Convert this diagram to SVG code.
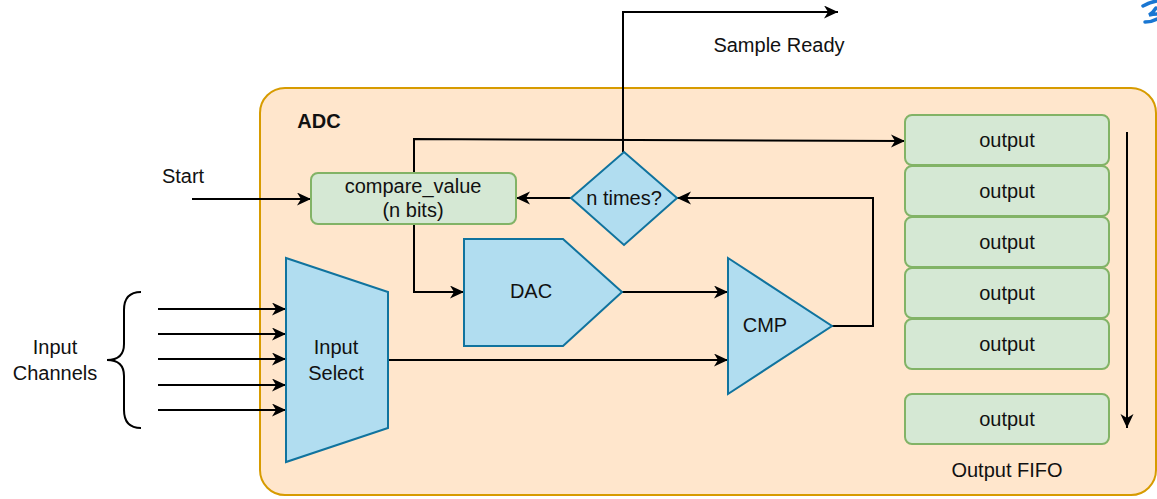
<svg xmlns="http://www.w3.org/2000/svg" width="1157" height="499" viewBox="0 0 1157 499">
<style>
text{font-family:"Liberation Sans",Arial,sans-serif;font-size:20px;fill:#111;text-anchor:middle}
.blue{fill:#b1ddf0;stroke:#10739e;stroke-width:2}
.green{fill:#d5e8d4;stroke:#82b366;stroke-width:2}
.wire{fill:none;stroke:#000;stroke-width:2}
.arr{marker-end:url(#ah)}
</style>
<defs>
<marker id="ah" markerUnits="userSpaceOnUse" markerWidth="16" markerHeight="14" refX="14" refY="6.5" orient="auto">
<path d="M0,0 L14,6.5 L0,13 L4,6.5 Z" fill="#000"/>
</marker>
</defs>
<rect x="1" y="1" width="1155" height="497" fill="#fff" stroke="none"/>
<g id="adc">
<rect x="260" y="88" width="896" height="407" rx="25" fill="#ffe6cc" stroke="#d79b00" stroke-width="2"/>
<text x="319" y="128" style="font-weight:bold">ADC</text>
</g>
<g id="icon">
<path d="M1143,6 Q1150,2 1157,1 M1156,8 Q1153,13 1149,15 Q1153,14 1157,14 M1157,19 Q1152,22 1145,22" fill="none" stroke="#1976d2" stroke-width="3.5" stroke-linecap="round"/>
</g>
<g id="connectors">
<path class="wire arr" d="M623,152 L623,12 L838,12"/>
<path class="wire arr" d="M192,199 L311,199"/>
<path class="wire arr" d="M571,198 L516,198"/>
<path class="wire arr" d="M414,173 L414,139 L905,141"/>
<path class="wire arr" d="M414,224 L414,292 L464,292"/>
<path class="wire arr" d="M622,292 L728,292"/>
<path class="wire arr" d="M388,360 L728,360"/>
<path class="wire arr" d="M832,326 L873,326 L873,198 L677,198"/>
<path class="wire arr" d="M158,309 L286,309"/>
<path class="wire arr" d="M158,334 L286,334"/>
<path class="wire arr" d="M158,359 L286,359"/>
<path class="wire arr" d="M158,385 L286,385"/>
<path class="wire arr" d="M158,410 L286,410"/>
<path class="wire arr" d="M1127,132 L1127,428"/>
</g>
<g id="brace">
<path class="wire" d="M141,292 Q124,292 124,310 L124,344 Q124,360 107,360 Q124,360 124,376 L124,410 Q124,428 141,428"/>
</g>
<g id="labels">
<text x="779" y="52">Sample Ready</text>
<text x="183" y="183">Start</text>
<text x="55" y="354">Input</text>
<text x="55" y="380">Channels</text>
</g>
<g id="compare_value">
<rect class="green" x="311" y="173" width="205" height="51" rx="7"/>
<text x="413" y="193">compare_value</text>
<text x="413" y="217">(n bits)</text>
</g>
<g id="n_times">
<path class="blue" d="M624,152 L677,198 L624,245 L571,198 Z"/>
<text x="624" y="205">n times?</text>
</g>
<g id="dac">
<path class="blue" d="M464,239 L563,239 L622,292 L563,346 L464,346 Z"/>
<text x="531" y="298">DAC</text>
</g>
<g id="cmp">
<path class="blue" d="M728,258 L832,326 L728,394 Z"/>
<text x="765" y="332">CMP</text>
</g>
<g id="input_select">
<path class="blue" d="M286,258 L388,292 L388,428 L286,462 Z"/>
<text x="336" y="354">Input</text>
<text x="336" y="380">Select</text>
</g>
<g id="fifo">
<rect class="green" x="905" y="115" width="204" height="50" rx="7"/>
<text x="1007" y="147">output</text>
<rect class="green" x="905" y="166" width="204" height="50" rx="7"/>
<text x="1007" y="198">output</text>
<rect class="green" x="905" y="217" width="204" height="50" rx="7"/>
<text x="1007" y="249">output</text>
<rect class="green" x="905" y="268" width="204" height="50" rx="7"/>
<text x="1007" y="300">output</text>
<rect class="green" x="905" y="319" width="204" height="50" rx="7"/>
<text x="1007" y="351">output</text>
<rect class="green" x="905" y="394" width="204" height="50" rx="7"/>
<text x="1007" y="426">output</text>
<text x="1007" y="477">Output FIFO</text>
</g>
</svg>
